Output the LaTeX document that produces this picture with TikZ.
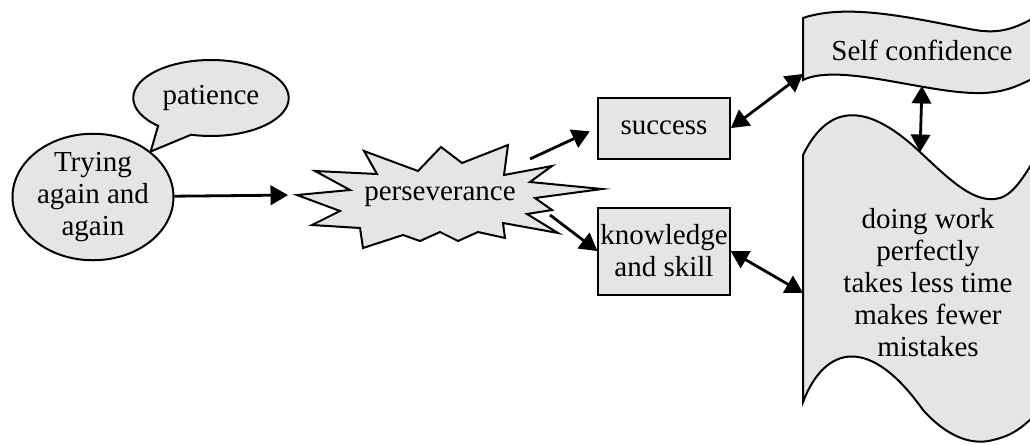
\documentclass[tikz,border=0pt]{standalone}
\usepackage{fontspec}
\setmainfont{Liberation Serif}
\usetikzlibrary{shapes,arrows,arrows.meta}
\usetikzlibrary{positioning}

\begin{document}
\begin{tikzpicture}[x=0.5pt,y=-0.5pt,>=triangle 60,line width=1pt,node distance=23.5pt,
    every node/.style={font=\fontsize{14.5}{16}\selectfont,align=center},
    shade/.style={draw,fill=black!10},
    box/.style={rectangle,shade,inner sep=1pt},
    link/.style={line width=1.4pt}]
\useasboundingbox (0,0) rectangle (1030,445);
\clip (0,0) rectangle (1030,445);

% left side
\node[ellipse,shade,minimum width=80.5pt,minimum height=60pt,inner sep=0pt] (try) at (93,197) {Trying\\again and\\again};
\node[ellipse callout,shade,minimum width=77.5pt,minimum height=38pt,callout pointer arc=28,
      callout absolute pointer={(try.north east)}] (pat) at (211,98) {patience};

% burst
\draw[shade] (297,195) -- (350,190) -- (315,171) -- (377,174) -- (364,151) -- (418,171)
    -- (441,147) -- (462,163) -- (508,145) -- (504,175) -- (552,166) -- (530,182)
    -- (602,189) -- (535,198) -- (552,210) -- (527,214) -- (558,233) -- (503,223)
    -- (505,238) -- (478,232) -- (458,241) -- (440,232) -- (420,241) -- (403,235)
    -- (363,248) -- (360,228) -- (312,225) -- (340,211) -- cycle;
\node (pers) at (440,197) {perseverance};
\coordinate (burstL) at (297,195);
\coordinate (burstNE) at (530,159);
\coordinate (burstSE) at (550,215);

% boxes
\node[box,minimum width=66pt,minimum height=30.5pt] (success) at (664,128) {success};
\node[box,minimum width=65.5pt,minimum height=43.5pt,below=of success] (know) {knowledge\\and skill};

% right side
\draw[shade] (803,80) -- (803,18) .. controls (850,2) and (920,20) .. (975,30)
    .. controls (1005,35) and (1020,25) .. (1040,15) -- (1040,75)
    .. controls (1025,82) and (1010,92) .. (983,93)
    .. controls (930,95) and (840,62) .. (803,80) -- cycle;
\draw[shade] (803,402) -- (803,155) .. controls (830,100) and (870,105) .. (920,152)
    .. controls (950,180) and (975,205) .. (1000,198)
    .. controls (1015,193) and (1025,175) .. (1040,150) -- (1040,410)
    .. controls (1025,425) and (1015,435) .. (993,440)
    .. controls (975,445) and (950,440) .. (923,410)
    .. controls (870,335) and (825,345) .. (803,402) -- cycle;
\node (conf) at (922,50) {Self confidence};
\node (work) at (928,283) {doing work\\perfectly\\takes less time\\makes fewer\\mistakes};
\coordinate (confL) at (803,74);
\coordinate (confB) at (922,86);
\coordinate (workT) at (920,152);
\coordinate (workL) at (803,293);

\draw[->,link,shorten >=4.5pt] (try) -- (burstL);
\draw[->,link,shorten >=4pt] (burstNE) -- (success.west);
\draw[->,link] (burstSE) -- (know.west);
\draw[<->,link] (success.east) -- (confL);
\draw[<->,link] (know.east) -- (workL);
\draw[<->,link] (confB) -- (workT);

\end{tikzpicture}
\end{document}
